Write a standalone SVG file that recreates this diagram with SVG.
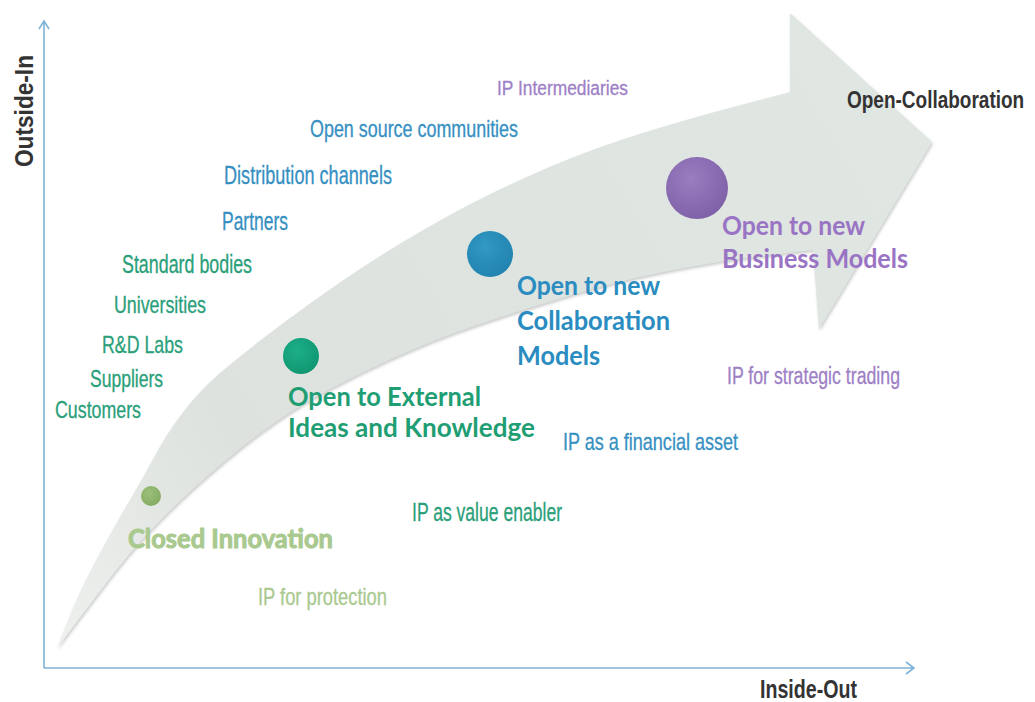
<svg xmlns="http://www.w3.org/2000/svg" width="1035" height="702" viewBox="0 0 1035 702">
<style>
.s{font-family:"Liberation Sans",Arial,sans-serif;stroke-width:0.3;}
.b{font-family:Lato,"Open Sans",sans-serif;font-weight:700;}
.k{font-family:"Liberation Sans",Arial,sans-serif;font-weight:700;fill:#333;}
.g{fill:#2a9f7a;stroke:#2a9f7a;}
.bl{fill:#3690c2;stroke:#3690c2;}
.p{fill:#9d80c6;stroke:#9d80c6;}
.lg{fill:#a9c98f;stroke:#a9c98f;}
.ax{stroke:#7fb2d8;stroke-width:1.6;fill:none;}
</style>
<defs>
<linearGradient id="band" x1="57" y1="648" x2="932" y2="142" gradientUnits="userSpaceOnUse">
<stop offset="0" stop-color="#eef0ee"/>
<stop offset="0.25" stop-color="#dde2de"/>
<stop offset="1" stop-color="#e0e6e2"/>
</linearGradient>
<filter id="sh" x="-5%" y="-5%" width="110%" height="110%">
<feDropShadow dx="1" dy="2" stdDeviation="1.5" flood-color="#8a8f8c" flood-opacity="0.45"/>
</filter>
<radialGradient id="cg1" cx="0.4" cy="0.35" r="0.7"><stop offset="0" stop-color="#9cc07a"/><stop offset="1" stop-color="#84aa62"/></radialGradient>
<radialGradient id="cg2" cx="0.4" cy="0.35" r="0.7"><stop offset="0" stop-color="#1cae88"/><stop offset="1" stop-color="#109670"/></radialGradient>
<radialGradient id="cg3" cx="0.4" cy="0.35" r="0.7"><stop offset="0" stop-color="#3298c4"/><stop offset="1" stop-color="#2182ae"/></radialGradient>
<radialGradient id="cg4" cx="0.4" cy="0.35" r="0.7"><stop offset="0" stop-color="#9a7cc0"/><stop offset="1" stop-color="#7e60a8"/></radialGradient>
</defs>
<rect width="1035" height="702" fill="#ffffff"/>

<g id="connectors">
<path class="ax" d="M44,668 V21 M39,29 L44,21 L49,29"/>
<path class="ax" d="M44,668 H914 M906,662 L914,668 L906,674"/>
</g>

<g id="big-arrow">
<path filter="url(#sh)" fill="url(#band)" d="M57,648 L68.5,619 Q80,590 97.5,557.5 Q115,525 129,501.5 Q143,478 155,455.5 Q167,433 183.5,411.5 Q200,390 220,373 Q240,356 263.5,338 Q287,320 313.5,301 Q340,282 370,262.5 Q400,243 440,220.5 Q480,198 530,175.5 Q580,153 630,137 Q680,121 735,106.5 L790,92 L790,13 L932,142 L819,329 L813,250 L770,255 Q727,260 683.5,268 Q640,276 600,287 Q560,298 515,312.5 Q470,327 445,336.5 Q420,346 390,359.5 Q360,373 330,389 Q300,405 275,422.5 Q250,440 225,461 Q200,482 180,501 Q160,520 143.5,538 Q127,556 112,575.5 Q97,595 77,621.5 L57,648 Z"/>
</g>

<g id="axis-labels">
<text class="k" x="0" y="0" font-size="26" textLength="112" lengthAdjust="spacingAndGlyphs" transform="translate(33,167) rotate(-90)">Outside-In</text>
<text class="k" x="760" y="698" font-size="25" textLength="97" lengthAdjust="spacingAndGlyphs">Inside-Out</text>
<text class="k" x="0" y="0" font-size="19" transform="translate(847,108) scale(1,1.3)">Open-Collaboration</text>
</g>

<g id="node-closed">
<circle cx="151" cy="496" r="10" fill="url(#cg1)"/>
<text class="b lg" x="128" y="548" font-size="27" font-weight="600" textLength="205" lengthAdjust="spacingAndGlyphs">Closed Innovation</text>
</g>

<g id="node-external">
<circle cx="301" cy="356" r="18" fill="url(#cg2)"/>
<text class="b" fill="#1f9e74" x="288" y="406" font-size="27" textLength="193" lengthAdjust="spacingAndGlyphs">Open to External</text>
<text class="b" fill="#1f9e74" x="288" y="437" font-size="27" textLength="247" lengthAdjust="spacingAndGlyphs">Ideas and Knowledge</text>
</g>

<g id="node-collaboration">
<circle cx="490" cy="254" r="23" fill="url(#cg3)"/>
<text class="b" fill="#2a8cc0" x="517" y="295" font-size="26" textLength="143" lengthAdjust="spacingAndGlyphs">Open to new</text>
<text class="b" fill="#2a8cc0" x="517" y="330" font-size="26" textLength="153" lengthAdjust="spacingAndGlyphs">Collaboration</text>
<text class="b" fill="#2a8cc0" x="517" y="365" font-size="26" textLength="83" lengthAdjust="spacingAndGlyphs">Models</text>
</g>

<g id="node-business">
<circle cx="697" cy="188" r="31" fill="url(#cg4)"/>
<text class="b" fill="#9a74c4" font-weight="600" x="722" y="235" font-size="27" textLength="143" lengthAdjust="spacingAndGlyphs">Open to new</text>
<text class="b" fill="#9a74c4" font-weight="600" x="722" y="268" font-size="27" textLength="186" lengthAdjust="spacingAndGlyphs">Business Models</text>
</g>

<g id="outside-in-labels">
<text class="s p" x="497" y="95" font-size="20" textLength="131" lengthAdjust="spacingAndGlyphs">IP Intermediaries</text>
<text class="s bl" x="310" y="137" font-size="24" textLength="208" lengthAdjust="spacingAndGlyphs">Open source communities</text>
<text class="s bl" x="224" y="184" font-size="25" textLength="168" lengthAdjust="spacingAndGlyphs">Distribution channels</text>
<text class="s bl" x="222" y="230" font-size="25" textLength="66" lengthAdjust="spacingAndGlyphs">Partners</text>
<text class="s g" x="122" y="273" font-size="25" textLength="130" lengthAdjust="spacingAndGlyphs">Standard bodies</text>
<text class="s g" x="114" y="313" font-size="24" textLength="92" lengthAdjust="spacingAndGlyphs">Universities</text>
<text class="s g" x="102" y="353" font-size="24" textLength="81" lengthAdjust="spacingAndGlyphs">R&amp;D Labs</text>
<text class="s g" x="90" y="387" font-size="23" textLength="73" lengthAdjust="spacingAndGlyphs">Suppliers</text>
<text class="s g" x="55" y="418" font-size="24" textLength="86" lengthAdjust="spacingAndGlyphs">Customers</text>
</g>

<g id="inside-out-labels">
<text class="s p" x="727" y="384" font-size="23" textLength="173" lengthAdjust="spacingAndGlyphs">IP for strategic trading</text>
<text class="s bl" x="563" y="450" font-size="24" textLength="175" lengthAdjust="spacingAndGlyphs">IP as a financial asset</text>
<text class="s g" x="412" y="521" font-size="25" textLength="150" lengthAdjust="spacingAndGlyphs">IP as value enabler</text>
<text class="s lg" x="258" y="605" font-size="24" textLength="129" lengthAdjust="spacingAndGlyphs">IP for protection</text>
</g>
</svg>
